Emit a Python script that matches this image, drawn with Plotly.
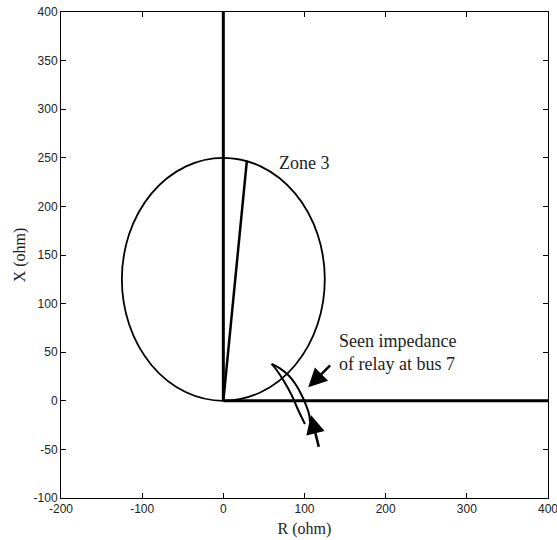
import plotly.graph_objects as go

# ---- data (ohm) ----
vert_R = [0, 0]
vert_X = [0, 400]
horiz_R = [0, 400]
horiz_X = [0, 0]
zone3_center_R = 0
zone3_center_X = 125
zone3_radius = 125
angle_line_R = [0, 29]
angle_line_X = [0, 247]
seen_outer_R = [59.5, 69.7, 79.9, 88.2, 96.4, 102.6, 105.8, 106.7]
seen_outer_X = [37.9, 33.4, 26.5, 18.0, 6.0, -6.0, -14.6, -21.5]
seen_inner_R = [59.5, 65.6, 73.8, 84.1, 92.2, 100.5]
seen_inner_X = [37.9, 31.7, 21.4, 6.0, -9.5, -23.9]
traj_arrow_tail = (118.1, -48.9)
traj_arrow_head = (107.9, -14.6)
label_arrow_tail = (133.4, 37.9)
label_arrow_head = (104.6, 13.9)
x_ticks = [-200, -100, 0, 100, 200, 300, 400]
x_tick_text = ["-200", "-100", "0", "100", "200", "300", "400"]
y_ticks = [-100, -50, 0, 50, 100, 150, 200, 250, 300, 350, 400]
y_tick_text = ["-100", "-50", "0", "50", "100", "150", "200", "250", "300", "350", "400"]

fig = go.Figure()
fig.add_trace(go.Scatter(x=vert_R, y=vert_X, mode="lines", line=dict(color="black", width=3), hoverinfo="skip"))
fig.add_trace(go.Scatter(x=horiz_R, y=horiz_X, mode="lines", line=dict(color="black", width=3), hoverinfo="skip"))
fig.add_trace(go.Scatter(x=angle_line_R, y=angle_line_X, mode="lines", line=dict(color="black", width=2.5), hoverinfo="skip"))
fig.add_trace(go.Scatter(x=seen_outer_R, y=seen_outer_X, mode="lines", line=dict(color="black", width=2, shape="spline"), hoverinfo="skip"))
fig.add_trace(go.Scatter(x=seen_inner_R, y=seen_inner_X, mode="lines", line=dict(color="black", width=2, shape="spline"), hoverinfo="skip"))

fig.add_shape(type="circle", xref="x", yref="y",
              x0=zone3_center_R - zone3_radius, x1=zone3_center_R + zone3_radius,
              y0=zone3_center_X - zone3_radius, y1=zone3_center_X + zone3_radius,
              line=dict(color="black", width=1.8))

for tail, head in [(traj_arrow_tail, traj_arrow_head), (label_arrow_tail, label_arrow_head)]:
    fig.add_annotation(x=head[0], y=head[1], ax=tail[0], ay=tail[1], xref="x", yref="y",
                       axref="x", ayref="y", text="", showarrow=True, arrowhead=2,
                       arrowsize=1.5, arrowwidth=2.5, arrowcolor="black")

serif = "Liberation Serif, Times New Roman, serif"
fig.add_annotation(x=99, y=244.6, text="Zone 3", showarrow=False, xref="x", yref="y",
                   font=dict(family=serif, size=18, color="#222"))
fig.add_annotation(x=139.9, y=49.4, text="Seen impedance<br>of relay at bus 7", showarrow=False,
                   xref="x", yref="y", xanchor="left", yanchor="middle", align="left",
                   font=dict(family=serif, size=18, color="#222"))

axis_common = dict(showgrid=False, zeroline=False, showline=True, linecolor="black", linewidth=1,
                   mirror="ticks", ticks="inside", ticklen=5, tickcolor="black",
                   ticklabeloverflow="allow", automargin=False,
                   tickfont=dict(family="Arial, Liberation Sans, sans-serif", size=12, color="#222"))
fig.update_xaxes(range=[-200, 400], tickvals=x_ticks, ticktext=x_tick_text,
                 title=dict(text="R (ohm)", font=dict(family=serif, size=16, color="#222"), standoff=7), **axis_common)
fig.update_yaxes(range=[-100, 400], tickvals=y_ticks, ticktext=y_tick_text,
                 title=dict(text="X (ohm)", font=dict(family=serif, size=16, color="#222"), standoff=3), **axis_common)

fig.update_layout(width=557, height=540, margin=dict(l=61, r=9, t=12, b=42),
                  plot_bgcolor="white", paper_bgcolor="white", showlegend=False)
fig.write_html("out.html")
